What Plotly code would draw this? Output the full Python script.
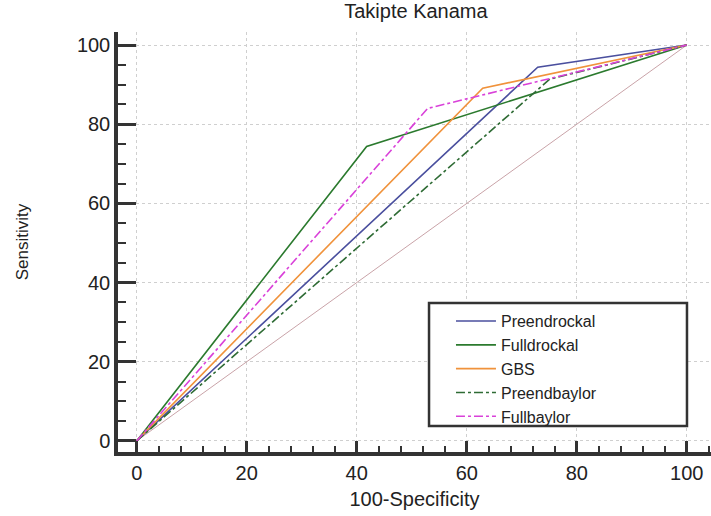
import plotly.graph_objects as go

# Data (100-Specificity, Sensitivity)
preendrockal_x = [0, 72.9, 100]
preendrockal_y = [0, 94.4, 100]
fulldrockal_x = [0, 41.8, 100]
fulldrockal_y = [0, 74.4, 100]
gbs_x = [0, 62.9, 100]
gbs_y = [0, 89.1, 100]
preendbaylor_x = [0, 75.1, 100]
preendbaylor_y = [0, 91.4, 100]
fullbaylor_x = [0, 52.9, 100]
fullbaylor_y = [0, 84.0, 100]
diag_x = [0, 100]
diag_y = [0, 100]

FONT = "Liberation Sans, Arial, sans-serif"

fig = go.Figure()
fig.add_trace(go.Scatter(x=diag_x, y=diag_y, mode="lines", showlegend=False,
                         line=dict(color="#c9a3a8", width=1)))
fig.add_trace(go.Scatter(x=preendrockal_x, y=preendrockal_y, mode="lines", name="Preendrockal",
                         line=dict(color="#4a4f9e", width=1.6)))
fig.add_trace(go.Scatter(x=fulldrockal_x, y=fulldrockal_y, mode="lines", name="Fulldrockal",
                         line=dict(color="#2b7a2e", width=1.6)))
fig.add_trace(go.Scatter(x=gbs_x, y=gbs_y, mode="lines", name="GBS",
                         line=dict(color="#f0923b", width=1.6)))
fig.add_trace(go.Scatter(x=preendbaylor_x, y=preendbaylor_y, mode="lines", name="Preendbaylor",
                         line=dict(color="#2e6b34", width=1.6, dash="dashdot")))
fig.add_trace(go.Scatter(x=fullbaylor_x, y=fullbaylor_y, mode="lines", name="Fullbaylor",
                         line=dict(color="#d941d9", width=1.6, dash="dashdot")))

# legend frame
fig.add_shape(type="rect", xref="paper", yref="paper", x0=0.5245, x1=0.9595, y0=0.062, y1=0.355,
              line=dict(color="#333", width=2.5), fillcolor="white", layer="above")

fig.update_layout(
    width=711, height=516,
    margin=dict(l=118, r=0, t=32, b=64),
    paper_bgcolor="white", plot_bgcolor="white",
    font=dict(family=FONT, color="#222"),
    title=dict(text="Takipte Kanama", x=0.585, xanchor="center", y=0.978, yanchor="middle",
               font=dict(size=20, color="#222")),
    xaxis=dict(range=[-3.4, 104.4], dtick=20, tick0=0, showgrid=True,
               gridcolor="#cfcfcf", griddash="dot", gridwidth=1, zeroline=False,
               showline=True, linecolor="#333", linewidth=3.5,
               ticks="inside", ticklen=11, tickwidth=2.5, tickcolor="#333",
               tickfont=dict(size=20, color="#222"),
               minor=dict(dtick=4, tick0=0, ticks="inside", ticklen=6, tickwidth=2, tickcolor="#333", showgrid=False),
               title=dict(text="100-Specificity", font=dict(size=20, color="#222"), standoff=10)),
    yaxis=dict(range=[-2.8, 103.3], dtick=20, tick0=0, showgrid=True,
               gridcolor="#cfcfcf", griddash="dot", gridwidth=1, zeroline=False,
               showline=True, linecolor="#333", linewidth=3.5,
               ticks="inside", ticklen=18, tickwidth=2.5, tickcolor="#333",
               tickfont=dict(size=20, color="#222"),
               minor=dict(dtick=5, tick0=0, ticks="inside", ticklen=8, tickwidth=2, tickcolor="#333", showgrid=False),
               title=dict(text="Sensitivity", font=dict(size=17, color="#222"), standoff=45)),
    legend=dict(x=0.5615, y=0.352, xanchor="left", yanchor="top",
                bgcolor="rgba(0,0,0,0)", borderwidth=0,
                font=dict(size=16, color="#222"), tracegroupgap=0, itemwidth=40),
)

fig.write_html("out.html")
